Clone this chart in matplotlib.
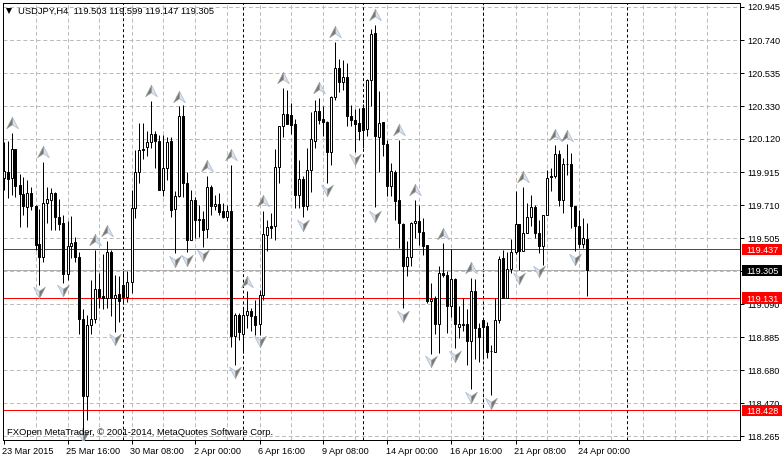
import matplotlib
matplotlib.use("Agg")
import matplotlib.pyplot as plt
from matplotlib.path import Path
from matplotlib.patches import Rectangle
from matplotlib.transforms import ScaledTranslation

plt.rcParams['font.family'] = ['Liberation Sans', 'DejaVu Sans']

# candle values, one row per bar: open, high, low, close
opens = [119.884,119.921,119.884,120.067,119.837,119.785,119.702,119.790,119.710,119.470,
 119.389,119.729,119.743,119.790,119.639,119.602,119.282,119.455,119.482,119.389,
 119.002,118.517,118.962,118.997,119.185,119.144,119.133,119.420,119.129,119.158,
 119.215,119.140,119.232,119.696,119.921,120.065,120.075,120.107,120.159,120.117,
 119.810,119.946,120.117,119.689,119.768,120.274,119.852,119.497,119.748,119.627,
 119.627,119.564,119.827,119.706,119.723,119.674,119.637,119.679,118.893,119.025,
 118.908,119.025,119.050,119.019,118.966,119.148,119.528,119.585,119.580,119.953,
 120.207,120.285,120.280,120.224,119.779,119.879,119.706,119.931,120.113,120.305,
 120.253,120.235,120.044,120.391,120.573,120.483,120.517,120.274,120.245,120.228,
 120.322,120.191,120.495,120.792,120.141,120.235,120.097,119.831,119.921,119.748,
 119.597,119.334,119.389,119.602,119.616,119.543,119.466,119.110,119.130,118.971,
 119.290,119.276,119.079,119.253,118.950,118.971,118.966,118.862,119.175,118.944,
 118.994,118.956,118.801,118.795,118.994,119.380,119.132,119.313,119.420,119.595,
 119.424,119.539,119.639,119.702,119.539,119.455,119.649,119.898,119.894,120.036,
 119.743,119.971,119.973,119.710,119.580,119.472,119.503]
highs = [120.111,120.117,120.167,120.067,119.911,119.892,119.873,119.829,119.716,119.691,
 119.986,119.829,119.823,119.793,119.754,119.654,119.616,119.647,119.516,119.422,
 119.060,119.027,119.246,119.430,119.290,119.409,119.489,119.430,119.276,119.270,
 119.301,119.301,119.810,120.056,120.228,120.228,120.176,120.368,120.180,120.155,
 120.155,120.142,120.142,119.800,120.332,120.343,119.923,119.810,119.766,119.716,
 119.674,119.898,119.842,119.779,119.790,119.727,119.716,119.967,119.039,119.039,
 119.071,119.175,119.071,119.121,119.184,119.679,119.618,119.664,120.067,120.211,
 120.448,120.437,120.354,120.253,119.998,119.898,120.074,120.295,120.374,120.385,
 120.337,120.243,120.395,120.736,120.629,120.621,120.604,120.343,120.316,120.322,
 120.349,120.504,120.819,120.844,120.426,120.235,120.124,119.978,119.936,120.124,
 119.602,119.486,119.605,119.748,119.716,119.633,119.466,119.227,119.146,119.332,
 119.474,119.303,119.436,119.259,119.081,119.133,119.064,119.254,119.248,118.977,
 119.008,118.983,118.837,119.133,119.395,119.432,119.422,119.501,119.800,119.595,
 119.827,119.727,119.779,119.716,119.622,119.654,119.936,119.946,120.092,120.061,
 120.011,120.099,120.040,119.710,119.685,119.633,119.599]
lows = [119.811,119.760,119.779,119.766,119.578,119.654,119.578,119.685,119.434,119.215,
 119.359,119.603,119.560,119.560,119.560,119.227,119.246,119.384,119.359,118.908,
 118.256,118.369,118.903,118.977,119.071,119.060,119.071,119.019,118.920,118.981,
 119.092,119.108,119.165,119.635,119.854,120.000,120.019,120.074,119.948,119.810,
 119.768,119.873,119.641,119.415,119.766,119.766,119.417,119.497,119.509,119.514,
 119.451,119.508,119.654,119.685,119.654,119.633,119.612,118.825,118.715,118.870,
 118.789,118.945,118.927,118.902,118.902,119.121,119.424,119.509,119.497,119.852,
 120.141,120.221,120.161,119.696,119.696,119.639,119.681,119.793,120.072,120.224,
 120.144,119.852,119.963,120.374,120.424,120.437,120.211,120.211,120.044,120.119,
 120.072,120.149,120.332,119.702,119.919,120.019,119.768,119.768,119.622,119.447,
 119.069,119.267,119.334,119.508,119.466,119.403,119.100,118.782,118.908,118.789,
 119.265,118.914,119.013,118.816,118.883,118.925,118.715,118.559,118.747,118.732,
 118.747,118.753,118.521,118.795,118.977,119.129,119.129,119.290,119.409,119.305,
 119.424,119.539,119.580,119.508,119.413,119.340,119.649,119.800,119.884,119.706,
 119.664,119.900,119.570,119.424,119.447,119.445,119.147]
closes = [119.925,119.879,120.067,119.831,119.783,119.706,119.790,119.706,119.466,119.386,
 119.727,119.754,119.790,119.637,119.597,119.282,119.455,119.476,119.386,118.997,
 118.517,118.962,118.997,119.185,119.140,119.132,119.420,119.133,119.150,119.110,
 119.140,119.232,119.696,119.921,120.061,120.057,120.107,120.159,120.113,119.810,
 119.946,120.109,119.685,119.773,120.274,119.854,119.497,119.748,119.618,119.622,
 119.560,119.827,119.706,119.723,119.668,119.637,119.679,118.893,119.025,118.920,
 119.025,119.050,119.019,118.960,119.148,119.530,119.577,119.572,119.953,120.211,
 120.285,120.224,120.218,119.779,119.877,119.706,119.931,120.128,120.305,120.249,
 120.232,120.044,120.391,120.573,120.483,120.517,120.270,120.249,120.224,120.176,
 120.186,120.500,120.786,120.144,120.228,120.097,119.831,119.925,119.741,119.602,
 119.334,119.389,119.602,119.616,119.543,119.459,119.110,119.125,118.971,119.290,
 119.273,119.079,119.251,118.966,118.966,118.964,118.862,119.175,118.941,118.889,
 118.952,118.795,118.797,118.994,119.378,119.129,119.315,119.420,119.595,119.424,
 119.539,119.639,119.702,119.539,119.455,119.649,119.884,119.887,120.036,119.743,
 119.973,119.970,119.706,119.580,119.472,119.508,119.305]

# arrow markers: bar number and price of each
up_bars = [2,10,23,26,37,44,51,57,61,65,70,79,83,93,99,103,110,117,130,138,141]
up_prices = [120.230,120.048,119.495,119.551,120.431,120.391,119.961,120.030,119.232,119.737,
 120.510,120.448,120.799,120.903,120.182,119.806,119.535,119.318,119.892,120.155,120.149]
down_bars = [9,15,20,28,43,46,50,58,64,75,81,88,93,100,107,113,117,122,129,134,143]
down_prices = [119.171,119.182,118.269,118.872,119.363,119.370,119.401,118.668,118.864,119.591,
 119.810,120.003,119.647,119.019,118.737,118.768,118.511,118.475,119.257,119.298,119.375]

# axis ticks
price_ticks = [120.955,120.748,120.541,120.334,120.128,119.921,119.714,119.507,119.300,119.094,
 118.887,118.680,118.473,118.266]
price_labels = ['120.945','120.740','120.535','120.330','120.120','119.915','119.710','119.505',
 '119.305','119.090','118.885','118.680','118.470','118.265']
time_ticks = [0,16,32,48,64,80,96,112,128,144]
time_labels = ['23 Mar 2015','25 Mar 16:00','30 Mar 08:00','2 Apr 00:00','6 Apr 16:00',
 '9 Apr 08:00','14 Apr 00:00','16 Apr 16:00','21 Apr 08:00','24 Apr 00:00']
grid_bars = [8,16,24,32,40,48,56,64,72,80,88,96,104,112,120,128,136,144,152,160,168,176]
period_bars = [30,60,90,120,156]
red_levels = [119.437,119.131,118.428]
bid = 119.305
W, H = 783, 457
PX = 0.99 * 72 / 100  # just under one pixel in points, so lines snap to one pixel column
Y0, Y1 = 118.2451, 120.9831

fig = plt.figure(figsize=(W/100, H/100), dpi=100, facecolor='white')
ax = fig.add_axes([2.5/W, (H-439.5)/H, 738/W, 437/H])
ax.set_xlim(-0.25, 184.25)
ax.set_ylim(Y0, Y1)
ax.set_facecolor('white')
for s in ax.spines.values():
    s.set_linewidth(PX)
    s.set_color('black')

GRID = '#bcbcbc'
DASH = (0, (4, 2.7))
ax.hlines(price_ticks, -0.25, 184.25, color=GRID, lw=PX, linestyles=[DASH], zorder=1)
ax.vlines(grid_bars, Y0, Y1, color=GRID, lw=PX, linestyles=[DASH], zorder=1)
ax.vlines(period_bars, Y0, Y1, color='black', lw=PX, linestyles=[(0, (3, 2.5))], zorder=1.5)
ax.hlines([bid], -0.25, 184.25, color='#b0b0b0', lw=PX, zorder=1.6)
ax.hlines(red_levels, -0.25, 184.25, color='#ff0000', lw=PX, zorder=1.7)

bars = range(len(opens))
wicks = ax.vlines(bars, lows, highs, color='black', lw=PX, zorder=3)
wicks.set_snap(True)
ax.bar(bars, [c-o for o, c in zip(opens, closes)], bottom=opens, width=0.5,
       color=['white' if c >= o else 'black' for o, c in zip(opens, closes)],
       edgecolor='black', linewidth=PX, zorder=3.2)

# dart shaped arrows, two halves
left_up = Path([(0,1),(-0.95,-0.85),(0,-0.2),(0,1)], closed=True)
right_up = Path([(0,1),(0.95,-0.85),(0,-0.2),(0,1)], closed=True)
left_dn = Path([(0,-1),(-0.95,0.85),(0,0.2),(0,-1)], closed=True)
right_dn = Path([(0,-1),(0.95,0.85),(0,0.2),(0,-1)], closed=True)
MS = 12.5*PX
def darts(x, y, dark, light):
    ax.plot(x, y, ls='none', marker=light, ms=MS, mfc='#dde2e8', mec='#b0c0d4', mew=PX*0.8, zorder=4)
    ax.plot(x, y, ls='none', marker=dark, ms=MS, mfc='#787874', mec='#a0a0a0', mew=PX*0.6, zorder=4.1)
darts(up_bars, up_prices, left_up, right_up)
darts(down_bars, down_prices, right_dn, left_dn)

FS = 9.2*PX
ax.yaxis.tick_right()
ax.set_yticks(price_ticks, price_labels)
ax.set_xticks(time_ticks, time_labels)
ax.tick_params(axis='y', length=3*PX*1.3, width=PX, pad=3*PX, labelsize=FS, colors='black')
ax.tick_params(axis='x', length=4*PX, width=PX, pad=3.5*PX, labelsize=FS, colors='black')
shift = ScaledTranslation(-1.5/100, 0, fig.dpi_scale_trans)
for lab in ax.get_xticklabels():
    lab.set_ha('left')
    lab.set_transform(lab.get_transform() + shift)

# price boxes on the scale
tr = ax.get_yaxis_transform()
box_h = 11.5 * (Y1-Y0) / 437
for v, face in [(119.437,'#ff0000'),(119.131,'#ff0000'),(118.428,'#ff0000'),(bid,'black')]:
    ax.add_patch(Rectangle((1+1.5/738, v-box_h/2), 39.5/738, box_h, transform=tr, fc=face, ec='none',
                           clip_on=False, zorder=8))
    ax.text(1+5.5/738, v, f'{v:.3f}', transform=tr, color='white', fontsize=FS, va='center_baseline',
            ha='left', zorder=9, clip_on=False)

ax.text(15.5/738, 1-8/437, 'USDJPY,H4  119.503 119.599 119.147 119.305', transform=ax.transAxes,
        fontsize=9.5*PX, color='black', va='center_baseline', ha='left', zorder=9)
ax.plot([7/738], [1-8/437], transform=ax.transAxes, marker='v', ms=7*PX, color='black', mew=0, zorder=9)
ax.text(4.5/738, 8/437, 'FXOpen MetaTrader, © 2001-2014, MetaQuotes Software Corp.', transform=ax.transAxes,
        fontsize=9.5*PX, color='black', va='center_baseline', ha='left', zorder=9)

fig.savefig('out.png', dpi=100, facecolor='white')
